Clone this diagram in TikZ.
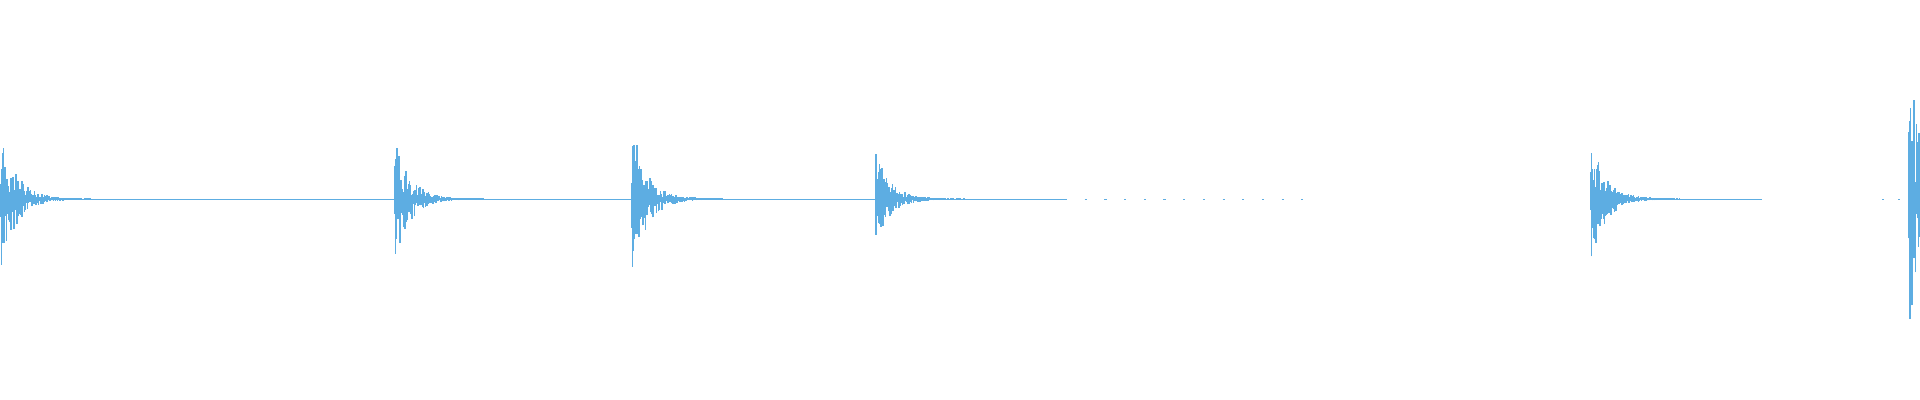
\documentclass[tikz,border=0pt]{standalone}
\usepackage{tikz}
\definecolor{wavecolor}{HTML}{5DADE2}
\begin{document}
\begin{tikzpicture}[x=0.01cm, y=0.01cm, wave/.style={draw=wavecolor, line width=0.3pt}]
  \useasboundingbox (0,0) rectangle (1920,400);
  \pgfmathsetseed{42}
  % baseline
  \draw[wave, line width=0.15pt] (0,201) -- (1065,201);
  \draw[wave, line width=0.15pt, dash pattern=on 0.6pt off 5pt] (1065,201) -- (1310,201);
  \draw[wave, line width=0.15pt] (1590,201) -- (1762,201);
  \draw[wave, line width=0.15pt, dash pattern=on 0.6pt off 4pt] (1882,201) -- (1900,201);
  % bursts
  \foreach \bx/\amp/\len in {1/72/90, 395/63/90, 632/76/90, 876/46/100, 1591/62/90, 1909/140/10}{
    \foreach \k in {0,0.5,...,\len}{
      \pgfmathsetmacro\h{\amp*exp(-\k/15)*(0.15+0.85*rnd^2)+0.4}
      \pgfmathsetmacro\g{\amp*exp(-\k/15)*(0.15+0.85*rnd^2)+0.4}
      \draw[wave] (\bx+\k,201-\g) -- (\bx+\k,201+\h);
    }
  }
\end{tikzpicture}
\end{document}
